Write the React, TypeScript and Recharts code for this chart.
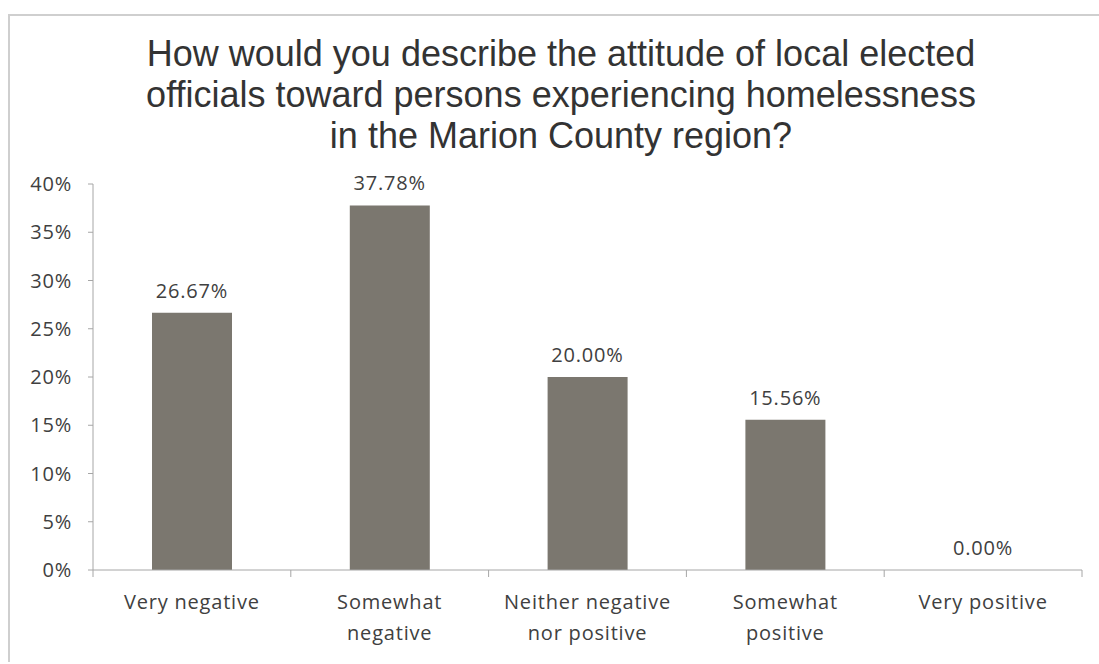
import { Bar, ComposedChart, LabelList, Line, XAxis, YAxis } from "recharts";

const categories = [
  "Very negative",
  "Somewhat negative",
  "Neither negative nor positive",
  "Somewhat positive",
  "Very positive",
];
const percentages = [26.67, 37.78, 20.0, 15.56, 0.0];
const yTicks = [0, 5, 10, 15, 20, 25, 30, 35, 40];
const titleLines = [
  "How would you describe the attitude of local elected",
  "officials toward persons experiencing homelessness",
  "in the Marion County region?",
];

const data = categories.map((name, i) => ({ name, value: percentages[i] }));

const TEXT = "#404040";
const AXIS = "#a6a6a6";
const BAR = "#7b776f";
const labelFont = "'Open Sans', 'Noto Sans', sans-serif";

// crude word wrap, roughly what excel does with the narrow category slots
function wrapLabel(label: string, maxChars: number) {
  const lines: string[] = [];
  let cur = "";
  for (const word of label.split(" ")) {
    const next = cur ? cur + " " + word : word;
    if (next.length > maxChars && cur) {
      lines.push(cur);
      cur = word;
    } else {
      cur = next;
    }
  }
  if (cur) lines.push(cur);
  return lines;
}

// excel puts the category ticks between the bars, so draw them here
function CategoryTick(props: any) {
  const { x, y, payload, index, visibleTicksCount } = props;
  const half = payload.offset || 98.9;
  const lines = wrapLabel(payload.value, 16);
  const isLast = index === (visibleTicksCount ?? categories.length) - 1;
  return (
    <g>
      <line x1={x - half} x2={x - half} y1={y} y2={y + 7} stroke={AXIS} />
      {isLast && <line x1={x + half} x2={x + half} y1={y} y2={y + 7} stroke={AXIS} />}
      <text
        x={x}
        y={y}
        textAnchor="middle"
        fill={TEXT}
        fontSize={20}
        letterSpacing={0.8}
        fontFamily={labelFont}
      >
        {lines.map((line, i) => (
          <tspan key={i} x={x} dy={i === 0 ? 39 : 31}>
            {line}
          </tspan>
        ))}
      </text>
    </g>
  );
}

export default function App() {
  return (
    <div style={{ position: "relative", width: 1099, height: 664, background: "#fff" }}>
      <style>{`body{margin:0}`}</style>
      <div
        style={{
          position: "absolute",
          left: 8,
          top: 14,
          right: 0,
          bottom: 2,
          borderTop: "2px solid #cfcfcf",
          borderLeft: "2px solid #cfcfcf",
        }}
      />
      <svg
        width={1099}
        height={170}
        style={{ position: "absolute", left: 0, top: 0 }}
      >
        {titleLines.map((line, i) => (
          <text
            key={i}
            x={561}
            y={66 + i * 41}
            textAnchor="middle"
            fontSize={36}
            fill="#333"
            fontFamily="'Liberation Sans', Arial, sans-serif"
          >
            {line}
          </text>
        ))}
      </svg>
      <div style={{ position: "absolute", left: 0, top: 0 }}>
        <ComposedChart
          width={1099}
          height={664}
          data={data}
          margin={{ top: 184, right: 17, bottom: 24, left: 33 }}
          barSize={80}
        >
          <XAxis
            dataKey="name"
            height={70}
            interval={0}
            tick={<CategoryTick />}
            tickLine={false}
            axisLine={{ stroke: AXIS }}
            tickSize={0}
            tickMargin={0}
          />
          <YAxis
            width={60}
            domain={[0, 40]}
            ticks={yTicks}
            tickFormatter={(v) => `${v}%`}
            tick={{ fill: TEXT, fontSize: 20, fontFamily: labelFont, letterSpacing: 0.8 }}
            tickLine={{ stroke: AXIS }}
            axisLine={{ stroke: AXIS }}
            tickSize={5}
            tickMargin={16}
          />
          <Bar dataKey="value" fill={BAR} isAnimationActive={false} />
          {/* invisible line only to carry the value labels, so 0.00% shows too */}
          <Line
            dataKey="value"
            stroke="none"
            dot={false}
            activeDot={false}
            legendType="none"
            isAnimationActive={false}
          >
            <LabelList
              dataKey="value"
              position="top"
              offset={15}
              formatter={(v: any) => `${Number(v).toFixed(2)}%`}
              fill={TEXT}
              fontSize={20}
              letterSpacing={0.8}
              fontFamily={labelFont}
            />
          </Line>
        </ComposedChart>
      </div>
    </div>
  );
}
